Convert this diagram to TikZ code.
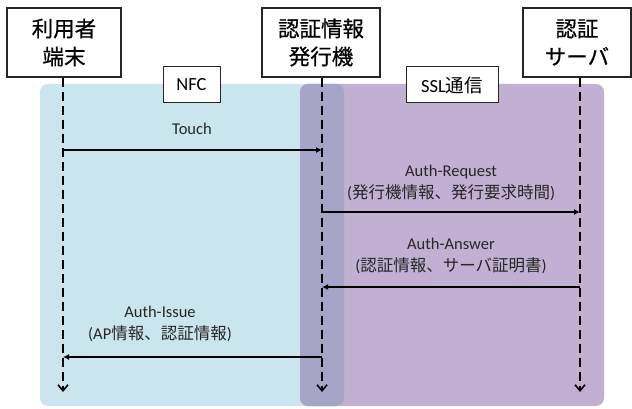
\documentclass[tikz,border=0pt]{standalone}
\usepackage{fontspec}
\setmainfont{Carlito}
\newfontfamily\jp{Noto Sans CJK JP}
\newfontfamily\jpb[FakeBold=0.6]{Noto Sans CJK JP}
\usetikzlibrary{arrows.meta}
\definecolor{nfcblue}{HTML}{CBE5EE}
\definecolor{sslpurple}{HTML}{C1B0D2}
\definecolor{overlap}{HTML}{A6A4C7}
\definecolor{txt}{HTML}{262626}
\tikzset{
  actor/.style={draw=black!85, line width=1.2pt, fill=white, align=center, font=\jpb\fontsize{21.5}{28}\selectfont, inner sep=0pt, minimum height=69pt},
  tagbox/.style={draw=black!85, line width=1pt, fill=white, font=\fontsize{18.5}{20}\selectfont, inner sep=0pt, minimum height=36pt},
  life/.style={line width=2.6pt, dash pattern=on 9pt off 5pt, -{Straight Barb[length=6pt,width=10pt,line width=1.6pt]}},
  msg/.style={line width=1.6pt, -{Latex[length=6pt,width=6pt]}},
  lbl/.style={align=center, text=txt, font=\fontsize{16.5}{21.5}\selectfont, inner sep=0pt}
}
\begin{document}
\begin{tikzpicture}[x=1pt,y=-1pt]
\useasboundingbox (0,0) rectangle (632,409);
% background regions
\fill[nfcblue, rounded corners=8pt] (40,84) rectangle (344,406);
\fill[sslpurple, rounded corners=8pt] (300,84) rectangle (604,406);
\begin{scope}
  \clip[rounded corners=8pt] (40,84) rectangle (344,406);
  \fill[overlap, rounded corners=8pt] (300,84) rectangle (604,406);
\end{scope}
% actors
\node[actor, minimum width=114pt] (a) at (64,42.5) {利用者\\端末};
\node[actor, minimum width=118pt] (b) at (321,42.5) {認証情報\\発行機};
\node[actor, minimum width=108pt] (c) at (577,42.5) {認証\\サーバ};
% tags
\node[tagbox, minimum width=57pt] (nfc) at (191.5,85) {NFC};
\node[tagbox, minimum width=92pt] (ssl) at (452,85) {SSL{\jp 通信}};
% lifelines
\coordinate (a0) at (63,77.6);  \coordinate (a1) at (63,392);
\coordinate (b0) at (322,77.6); \coordinate (b1) at (322,392);
\coordinate (c0) at (580,77.6); \coordinate (c1) at (580,392);
\draw[life] (a0) -- (a1);
\draw[life] (b0) -- (b1);
\draw[life] (c0) -- (c1);
% messages
\coordinate (m1s) at (63,150);  \coordinate (m1e) at (322,150);
\coordinate (m2s) at (322,212); \coordinate (m2e) at (580,212);
\coordinate (m3s) at (580,287); \coordinate (m3e) at (322,287);
\coordinate (m4s) at (322,357); \coordinate (m4e) at (63,357);
\draw[msg] (m1s) -- (m1e);
\draw[msg] (m2s) -- (m2e);
\draw[msg] (m3s) -- (m3e);
\draw[msg] (m4s) -- (m4e);
\node[lbl] (l1) at (192,129) {Touch};
\node[lbl] (l2) at (451,183) {Auth-Request\\({\jp 発行機情報、発行要求時間})};
\node[lbl] (l3) at (451,256) {Auth-Answer\\({\jp 認証情報、サーバ証明書})};
\node[lbl] (l4) at (160,324) {Auth-Issue\\(AP{\jp 情報、認証情報})};
\end{tikzpicture}
\end{document}
